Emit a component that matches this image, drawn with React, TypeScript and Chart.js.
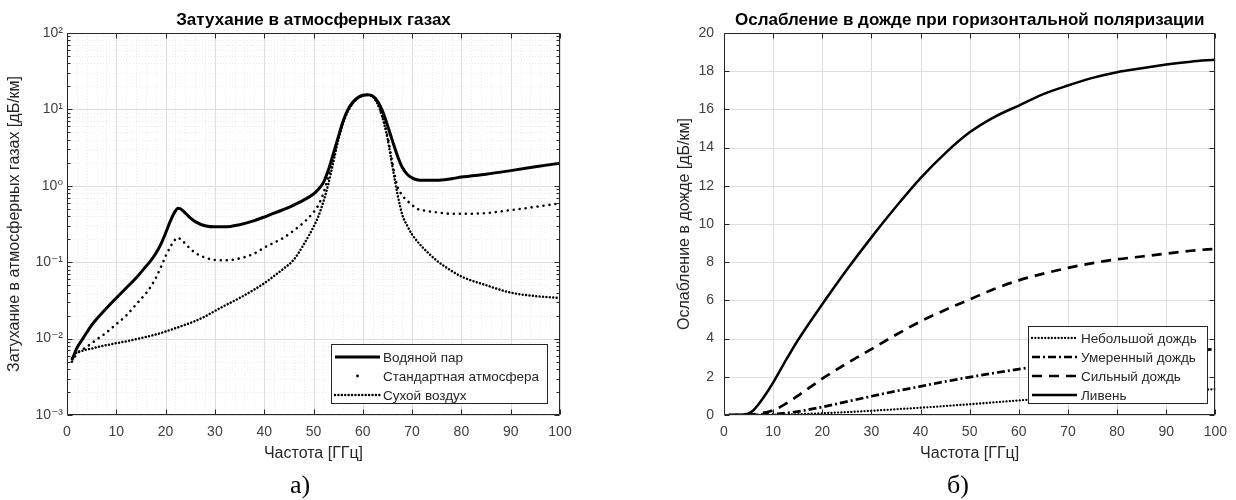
import React, { useEffect, useRef } from 'react';
import { Chart, registerables } from 'chart.js';

Chart.register(...registerables);

const FONT = '"Liberation Sans", "DejaVu Sans", Arial, sans-serif';
const AXIS_COLOR = '#262626';
const TICK_TEXT = '#404040';

// ---------- chart (а): attenuation in atmospheric gases ----------
const gasFreq = [1, 2, 3, 4, 5, 6, 8, 10, 12, 14, 16, 17, 18, 19, 20, 21, 22, 22.5, 23, 24, 25, 26, 28, 30, 32, 35, 38, 40, 42, 44, 46, 48, 50, 51, 52, 53, 54, 55, 56, 57, 58, 59, 60, 61, 62, 63, 64, 65, 66, 67, 68, 69, 70, 71, 72, 75, 78, 80, 85, 90, 95, 100];
const waterVapor = [0.0052, 0.0075, 0.0095, 0.012, 0.015, 0.018, 0.025, 0.034, 0.046, 0.062, 0.088, 0.105, 0.13, 0.17, 0.24, 0.35, 0.47, 0.51, 0.5, 0.44, 0.38, 0.34, 0.3, 0.29, 0.29, 0.31, 0.35, 0.39, 0.44, 0.49, 0.56, 0.65, 0.78, 0.9, 1.1, 1.6, 2.6, 4.3, 7, 10, 12.5, 14.3, 15.3, 15.6, 15, 12.8, 9.5, 6.2, 3.9, 2.5, 1.75, 1.42, 1.27, 1.2, 1.18, 1.18, 1.24, 1.3, 1.42, 1.58, 1.77, 1.98];
const standardAtm = [0.005, 0.0063, 0.0071, 0.0078, 0.0087, 0.0097, 0.012, 0.0155, 0.02, 0.028, 0.039, 0.048, 0.062, 0.085, 0.12, 0.16, 0.2, 0.21, 0.2, 0.175, 0.15, 0.133, 0.115, 0.107, 0.106, 0.112, 0.13, 0.155, 0.18, 0.21, 0.26, 0.33, 0.45, 0.56, 0.8, 1.3, 2.3, 4.2, 6.8, 9.8, 12.3, 14.1, 15.2, 15.5, 14.8, 12, 8, 4.5, 2.0, 1.0, 0.75, 0.64, 0.56, 0.5, 0.48, 0.45, 0.43, 0.43, 0.44, 0.48, 0.53, 0.59];
const dryAir = [0.0055, 0.0066, 0.0069, 0.0072, 0.0074, 0.0077, 0.0082, 0.0087, 0.0092, 0.0098, 0.0105, 0.0109, 0.0113, 0.0118, 0.0124, 0.013, 0.0137, 0.014, 0.0144, 0.0152, 0.016, 0.017, 0.0195, 0.023, 0.027, 0.034, 0.044, 0.053, 0.066, 0.083, 0.108, 0.17, 0.29, 0.4, 0.62, 1.05, 2.0, 3.9, 6.6, 9.5, 12, 14, 15.1, 15.4, 14.7, 11.8, 7.8, 4.2, 1.8, 0.8, 0.42, 0.3, 0.23, 0.19, 0.16, 0.105, 0.077, 0.065, 0.05, 0.04, 0.036, 0.034];
const gasYDecades = [0.001, 0.01, 0.1, 1, 10, 100];
const gasYLabels = ['10⁻³', '10⁻²', '10⁻¹', '10⁰', '10¹', '10²'];
const freqTicks = [0, 10, 20, 30, 40, 50, 60, 70, 80, 90, 100];
const freqMinor = [2, 4, 6, 8, 12, 14, 16, 18, 22, 24, 26, 28, 32, 34, 36, 38, 42, 44, 46, 48, 52, 54, 56, 58, 62, 64, 66, 68, 72, 74, 76, 78, 82, 84, 86, 88, 92, 94, 96, 98];
const gasLegend = ['Водяной пар', 'Стандартная атмосфера', 'Сухой воздух'];

// ---------- chart (б): rain attenuation ----------
const rainFreq = [1, 2, 3, 4, 5, 6, 7, 8, 10, 12, 15, 20, 25, 30, 35, 40, 45, 50, 55, 60, 65, 70, 75, 80, 85, 90, 95, 100];
const lightRain = [0, 0, 0, 0, 0, 0, 0.002, 0.004, 0.01, 0.02, 0.04, 0.09, 0.15, 0.22, 0.3, 0.38, 0.47, 0.56, 0.66, 0.76, 0.86, 0.95, 1.04, 1.12, 1.19, 1.25, 1.3, 1.35];
const moderateRain = [0, 0, 0, 0, 0.005, 0.01, 0.015, 0.025, 0.05, 0.09, 0.18, 0.42, 0.7, 0.98, 1.25, 1.5, 1.75, 1.98, 2.2, 2.4, 2.6, 2.78, 2.93, 3.07, 3.18, 3.28, 3.37, 3.45];
const heavyRain = [0, 0, 0.005, 0.01, 0.02, 0.04, 0.07, 0.11, 0.25, 0.5, 1.0, 1.9, 2.7, 3.45, 4.2, 4.9, 5.5, 6.05, 6.6, 7.05, 7.4, 7.7, 7.95, 8.15, 8.3, 8.45, 8.6, 8.7];
const downpour = [0, 0.005, 0.01, 0.03, 0.08, 0.25, 0.55, 0.9, 1.7, 2.6, 3.9, 5.8, 7.6, 9.3, 10.9, 12.4, 13.7, 14.8, 15.6, 16.2, 16.8, 17.25, 17.65, 17.95, 18.15, 18.35, 18.5, 18.6];
const rainYTicks = [0, 2, 4, 6, 8, 10, 12, 14, 16, 18, 20];
const rainLegend = ['Небольшой дождь', 'Умеренный дождь', 'Сильный дождь', 'Ливень'];

type LegendItem = { label: string; dash: number[]; width: number; cap: CanvasLineCap; dot?: boolean };
type FrameOpts = {
  xMajor: number[];
  xMinor: number[];
  yMajor: number[];
  yMinor: number[];
  legend: { x: number; y: number; w: number; h: number; rows: number[]; x0: number; x1: number; tx: number; items: LegendItem[] };
};

function logMinor(): number[] {
  const out: number[] = [];
  for (let i = 0; i < gasYDecades.length - 1; i++) {
    for (let m = 2; m <= 9; m++) out.push(gasYDecades[i] * m);
  }
  return out;
}

function framePlugin(o: FrameOpts) {
  return {
    id: 'frame',
    beforeDatasetsDraw(chart: any) {
      const { ctx, chartArea, scales } = chart;
      const { left, right, top, bottom } = chartArea;
      const x = scales.x, y = scales.y;
      ctx.save();
      ctx.lineWidth = 1;
      ctx.strokeStyle = '#ececec';
      ctx.setLineDash([1, 2]);
      ctx.beginPath();
      o.xMinor.forEach((v) => { const p = Math.round(x.getPixelForValue(v)) + 0.5; ctx.moveTo(p, top); ctx.lineTo(p, bottom); });
      o.yMinor.forEach((v) => { const p = Math.round(y.getPixelForValue(v)) + 0.5; ctx.moveTo(left, p); ctx.lineTo(right, p); });
      ctx.stroke();
      ctx.setLineDash([]);
      ctx.strokeStyle = '#dedede';
      ctx.beginPath();
      o.xMajor.forEach((v) => { const p = Math.round(x.getPixelForValue(v)) + 0.5; ctx.moveTo(p, top); ctx.lineTo(p, bottom); });
      o.yMajor.forEach((v) => { const p = Math.round(y.getPixelForValue(v)) + 0.5; ctx.moveTo(left, p); ctx.lineTo(right, p); });
      ctx.stroke();
      ctx.restore();
    },
    afterDatasetsDraw(chart: any) {
      const { ctx, chartArea, scales } = chart;
      const { left, right, top, bottom } = chartArea;
      const x = scales.x, y = scales.y;
      ctx.save();
      ctx.strokeStyle = AXIS_COLOR;
      ctx.lineWidth = 1;
      ctx.setLineDash([]);
      ctx.beginPath();
      const L = Math.round(left) + 0.5, R = Math.round(right) - 0.5, T = Math.round(top) + 0.5, B = Math.round(bottom) - 0.5;
      ctx.rect(L, T, R - L, B - T);
      o.xMajor.forEach((v) => {
        const p = Math.round(x.getPixelForValue(v)) + 0.5;
        ctx.moveTo(p, B); ctx.lineTo(p, B - 5);
        ctx.moveTo(p, T); ctx.lineTo(p, T + 5);
      });
      o.yMajor.forEach((v) => {
        const p = Math.round(y.getPixelForValue(v)) + 0.5;
        ctx.moveTo(L, p); ctx.lineTo(L + 5, p);
        ctx.moveTo(R, p); ctx.lineTo(R - 5, p);
      });
      o.yMinor.forEach((v) => {
        const p = Math.round(y.getPixelForValue(v)) + 0.5;
        ctx.moveTo(L, p); ctx.lineTo(L + 3, p);
        ctx.moveTo(R, p); ctx.lineTo(R - 3, p);
      });
      ctx.stroke();

      // legend
      const lg = o.legend;
      ctx.fillStyle = '#ffffff';
      ctx.fillRect(lg.x, lg.y, lg.w, lg.h);
      ctx.strokeStyle = AXIS_COLOR;
      ctx.lineWidth = 1;
      ctx.strokeRect(lg.x + 0.5, lg.y + 0.5, lg.w, lg.h);
      lg.items.forEach((it, i) => {
        const ry = lg.rows[i];
        ctx.strokeStyle = '#000';
        ctx.fillStyle = '#000';
        if (it.dot) {
          ctx.beginPath();
          ctx.arc((lg.x0 + lg.x1) / 2, ry, 1.4, 0, Math.PI * 2);
          ctx.fill();
        } else {
          ctx.lineWidth = it.width;
          ctx.lineCap = it.cap;
          ctx.setLineDash(it.dash);
          ctx.beginPath();
          ctx.moveTo(lg.x0, ry);
          ctx.lineTo(lg.x1, ry);
          ctx.stroke();
          ctx.setLineDash([]);
        }
        ctx.fillStyle = AXIS_COLOR;
        ctx.font = `13.5px ${FONT}`;
        ctx.textAlign = 'left';
        ctx.textBaseline = 'middle';
        ctx.fillText(it.label, lg.tx, ry + 1);
      });
      ctx.restore();
    },
  };
}

const tickFont = { family: FONT, size: 14 };
const axisTitleFont = { family: FONT, size: 16 };
const titleFont = { family: FONT, size: 17, weight: 'bold' as const };

function gasConfig(): any {
  const pts = (arr: number[]) => gasFreq.map((f, i) => ({ x: f, y: arr[i] }));
  return {
    type: 'line',
    data: {
      datasets: [
        { label: gasLegend[0], data: pts(waterVapor), borderColor: '#000', borderWidth: 3, pointRadius: 0, cubicInterpolationMode: 'monotone' },
        { label: gasLegend[1], data: pts(standardAtm), borderColor: '#000', borderWidth: 2.6, borderDash: [0.01, 6], borderCapStyle: 'round', pointRadius: 0, cubicInterpolationMode: 'monotone' },
        { label: gasLegend[2], data: pts(dryAir), borderColor: '#000', borderWidth: 2.5, borderDash: [0.01, 3.4], borderCapStyle: 'round', pointRadius: 0, cubicInterpolationMode: 'monotone' },
      ],
    },
    options: {
      responsive: false,
      animation: false,
      devicePixelRatio: 1,
      layout: { padding: { left: 0, right: 58, top: 0, bottom: 37 } },
      plugins: {
        legend: { display: false },
        tooltip: { enabled: false },
        title: { display: true, fullSize: false, text: 'Затухание в атмосферных газах', color: '#000', font: titleFont, padding: { top: 10, bottom: 2.6 } },
      },
      scales: {
        x: {
          type: 'linear', min: 0, max: 100,
          afterBuildTicks: (s: any) => { s.ticks = freqTicks.map((v) => ({ value: v })); },
          ticks: { autoSkip: false, maxRotation: 0, font: tickFont, color: TICK_TEXT, padding: 9 },
          grid: { display: false, drawTicks: false }, border: { display: false },
          title: { display: true, text: 'Частота [ГГц]', color: AXIS_COLOR, font: axisTitleFont, padding: { top: 0, bottom: 0 } },
          afterFit: (s: any) => { s.height = 48; },
        },
        y: {
          type: 'logarithmic', min: 0.001, max: 100,
          afterBuildTicks: (s: any) => { s.ticks = gasYDecades.map((v) => ({ value: v })); },
          ticks: { autoSkip: false, font: tickFont, color: TICK_TEXT, padding: 4, callback: (_v: any, i: number) => gasYLabels[i] },
          grid: { display: false, drawTicks: false }, border: { display: false },
          title: { display: true, text: 'Затухание в атмосферных газах [дБ/км]', color: AXIS_COLOR, font: axisTitleFont, padding: { top: 5, bottom: 0 } },
          afterFit: (s: any) => { s.width = 67; },
        },
      },
    },
    plugins: [
      framePlugin({
        xMajor: freqTicks, xMinor: freqMinor, yMajor: gasYDecades, yMinor: logMinor(),
        legend: {
          x: 331, y: 344, w: 216, h: 59, rows: [357, 376, 395], x0: 335, x1: 380, tx: 383,
          items: [
            { label: gasLegend[0], dash: [], width: 3, cap: 'butt' },
            { label: gasLegend[1], dash: [], width: 2.6, cap: 'round', dot: true },
            { label: gasLegend[2], dash: [0.01, 3.4], width: 2.5, cap: 'round' },
          ],
        },
      }),
    ],
  };
}

function rainConfig(): any {
  const pts = (arr: number[]) => rainFreq.map((f, i) => ({ x: f, y: arr[i] }));
  return {
    type: 'line',
    data: {
      datasets: [
        { label: rainLegend[0], data: pts(lightRain), borderColor: '#000', borderWidth: 2.3, borderDash: [0.01, 3.3], borderCapStyle: 'round', pointRadius: 0, cubicInterpolationMode: 'monotone' },
        { label: rainLegend[1], data: pts(moderateRain), borderColor: '#000', borderWidth: 2.7, borderDash: [8, 3, 2, 3], pointRadius: 0, cubicInterpolationMode: 'monotone' },
        { label: rainLegend[2], data: pts(heavyRain), borderColor: '#000', borderWidth: 2.7, borderDash: [10, 7], pointRadius: 0, cubicInterpolationMode: 'monotone' },
        { label: rainLegend[3], data: pts(downpour), borderColor: '#000', borderWidth: 2.5, pointRadius: 0, cubicInterpolationMode: 'monotone' },
      ],
    },
    options: {
      responsive: false,
      animation: false,
      devicePixelRatio: 1,
      layout: { padding: { left: 0, right: 18, top: 0, bottom: 37 } },
      plugins: {
        legend: { display: false },
        tooltip: { enabled: false },
        title: { display: true, fullSize: false, text: 'Ослабление в дожде при горизонтальной поляризации', color: '#000', font: titleFont, padding: { top: 10, bottom: 2.6 } },
      },
      scales: {
        x: {
          type: 'linear', min: 0, max: 100,
          afterBuildTicks: (s: any) => { s.ticks = freqTicks.map((v) => ({ value: v })); },
          ticks: { autoSkip: false, maxRotation: 0, font: tickFont, color: TICK_TEXT, padding: 9 },
          grid: { display: false, drawTicks: false }, border: { display: false },
          title: { display: true, text: 'Частота [ГГц]', color: AXIS_COLOR, font: axisTitleFont, padding: { top: 0, bottom: 0 } },
          afterFit: (s: any) => { s.height = 48; },
        },
        y: {
          type: 'linear', min: 0, max: 20,
          afterBuildTicks: (s: any) => { s.ticks = rainYTicks.map((v) => ({ value: v })); },
          ticks: { autoSkip: false, font: tickFont, color: TICK_TEXT, padding: 10 },
          grid: { display: false, drawTicks: false }, border: { display: false },
          title: { display: true, text: 'Ослабление в дожде [дБ/км]', color: AXIS_COLOR, font: axisTitleFont, padding: { top: 57.4, bottom: 0 } },
          afterFit: (s: any) => { s.width = 106; },
        },
      },
    },
    plugins: [
      framePlugin({
        xMajor: freqTicks, xMinor: [], yMajor: rainYTicks, yMinor: [],
        legend: {
          x: 410, y: 326, w: 179, h: 77, rows: [338, 357, 376, 395], x0: 414, x1: 459, tx: 463,
          items: [
            { label: rainLegend[0], dash: [0.01, 3.3], width: 2.3, cap: 'round' },
            { label: rainLegend[1], dash: [8, 3, 2, 3], width: 2.7, cap: 'butt' },
            { label: rainLegend[2], dash: [10, 7], width: 2.7, cap: 'butt' },
            { label: rainLegend[3], dash: [], width: 2.5, cap: 'butt' },
          ],
        },
      }),
    ],
  };
}

function ChartCanvas({ make, left }: { make: () => any; left: number }) {
  const ref = useRef<HTMLCanvasElement>(null);
  useEffect(() => {
    const chart = new Chart(ref.current as HTMLCanvasElement, make());
    return () => chart.destroy();
  }, []);
  return (
    <canvas
      ref={ref}
      width={618}
      height={500}
      style={{ position: 'absolute', left, top: 0, width: 618, height: 500 }}
    />
  );
}

const captionStyle = (left: number): React.CSSProperties => ({
  position: 'absolute',
  left,
  top: 472,
  width: 100,
  textAlign: 'center',
  fontFamily: '"Liberation Serif", "Times New Roman", serif',
  fontSize: 26,
  lineHeight: '26px',
  color: '#000',
});

export default function App() {
  return (
    <div style={{ position: 'fixed', left: 0, top: 0, width: 1236, height: 500, background: '#fff', overflow: 'hidden' }}>
      <ChartCanvas make={gasConfig} left={0} />
      <ChartCanvas make={rainConfig} left={618} />
      <div style={captionStyle(250)}>а)</div>
      <div style={captionStyle(908)}>б)</div>
    </div>
  );
}
